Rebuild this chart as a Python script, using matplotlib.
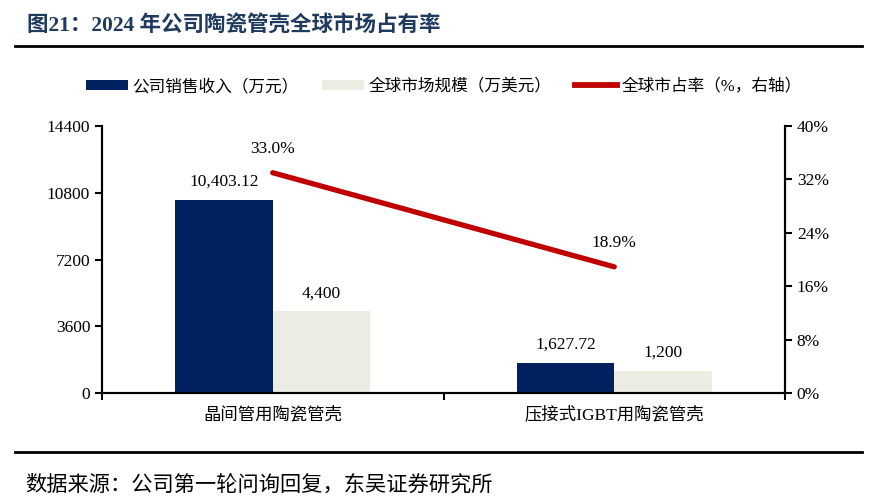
import matplotlib
matplotlib.use('Agg')
import matplotlib.pyplot as plt
from matplotlib.lines import Line2D
from matplotlib.patches import Patch
from matplotlib.ticker import FuncFormatter
import numpy as np

plt.rcParams['font.family'] = ['Liberation Serif', 'Noto Sans CJK SC']
plt.rcParams['axes.unicode_minus'] = False

# data
categories = ['晶间管用陶瓷管壳', '压接式IGBT用陶瓷管壳']
revenue = [10403.12, 1627.72]          # 公司销售收入（万元）
market = [4400, 1200]                  # 全球市场规模（万美元）
share = [0.330, 0.189]                 # 全球市占率
revenue_labels = ['10,403.12', '1,627.72']
market_labels = ['4,400', '1,200']
share_labels = ['33.0%', '18.9%']
left_ticks = [0, 3600, 7200, 10800, 14400]
right_ticks = [0, 0.08, 0.16, 0.24, 0.32, 0.40]

c_dark = '#002060'
c_light = '#EDECE2'
c_red = '#C00000'
c_title = '#1F3A5F'

fig = plt.figure(figsize=(8.82, 5.0), dpi=100)

# title and rules
fig.text(27/882, 1-26/500, '图21：2024 年公司陶瓷管壳全球市场占有率', fontsize=15.5,
         fontweight='bold', color=c_title, va='center', ha='left')
fig.add_artist(Line2D([15/882, 862/882], [1-46/500, 1-46/500], color='black', lw=2))
fig.add_artist(Line2D([15/882, 862/882], [1-452/500, 1-452/500], color='black', lw=2))
fig.text(25/882, 1-485/500, '数据来源：公司第一轮问询回复，东吴证券研究所', fontsize=15.3,
         va='center', ha='left', color='black')

ax = fig.add_axes([102/882, 1-393/500, (785-102)/882, (393-126)/500])
x = np.arange(len(categories))
w = 0.285
b1 = ax.bar(x - w/2, revenue, w, color=c_dark, zorder=2)
b2 = ax.bar(x + w/2, market, w, color=c_light, zorder=2)

for rect, lab in zip(b1, revenue_labels):
    ax.annotate(lab, (rect.get_x() + rect.get_width()/2, rect.get_height()),
                xytext=(0, 13), textcoords='offset points', ha='center', va='center', fontsize=12.5)
for rect, lab in zip(b2, market_labels):
    ax.annotate(lab, (rect.get_x() + rect.get_width()/2, rect.get_height()),
                xytext=(0, 13), textcoords='offset points', ha='center', va='center', fontsize=12.5)

ax.set_xlim(-0.5, 1.5)
ax.set_ylim(0, 14400)
ax.set_yticks(left_ticks)
ax.set_yticklabels([str(t) for t in left_ticks])
ax.set_xticks(x)
ax.set_xticklabels(categories, fontsize=12.5)
ax.set_xticks([-0.5, 0.5, 1.5], minor=True)
ax.tick_params(axis='x', which='major', length=0, pad=10)
ax.tick_params(axis='x', which='minor', length=5, width=1.5, direction='out')
ax.tick_params(axis='y', length=5, width=1.5, direction='out', labelsize=12.5)
ax.spines['top'].set_visible(False)
for s in ['left', 'right', 'bottom']:
    ax.spines[s].set_linewidth(1.5)

ax2 = ax.twinx()
ax2.plot(x, share, color=c_red, lw=3.8, solid_capstyle='round', zorder=3)
for xi, v, lab in zip(x, share, share_labels):
    ax2.annotate(lab, (xi, v), xytext=(0, 17), textcoords='offset points',
                 ha='center', va='center', fontsize=12.5)
ax2.set_ylim(0, 0.40)
ax2.set_yticks(right_ticks)
ax2.yaxis.set_major_formatter(FuncFormatter(lambda v, p: '{:.0f}%'.format(v*100)))
ax2.tick_params(axis='y', length=5, width=1.5, direction='out', labelsize=12.5)
ax2.spines['top'].set_visible(False)
for s in ['left', 'right', 'bottom']:
    ax2.spines[s].set_linewidth(1.5)

handles = [Patch(facecolor=c_dark), Patch(facecolor=c_light),
           Line2D([0], [0], color=c_red, lw=4.2)]
labels = ['公司销售收入（万元）', '全球市场规模（万美元）', '全球市占率（%，右轴）']
fig.legend(handles, labels, loc='center', bbox_to_anchor=(444/882, 1-87/500), ncol=3,
           frameon=False, fontsize=12, handlelength=2.5, handleheight=0.6,
           handletextpad=0.3, columnspacing=1.4)

fig.savefig('out.png', dpi=100)
